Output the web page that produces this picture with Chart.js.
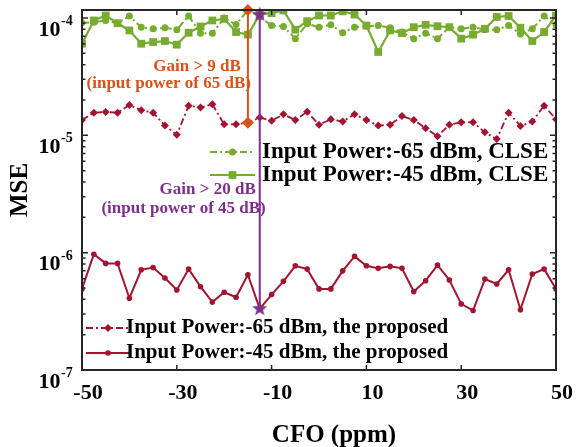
<!DOCTYPE html>
<html>
<head>
<meta charset="utf-8">
<script src="https://cdn.jsdelivr.net/npm/chart.js@4.4.0/dist/chart.umd.min.js"></script>
<style>
  html, body { margin: 0; padding: 0; background: #fff; }
</style>
</head>
<body>
<canvas id="chart" width="576" height="447"></canvas>
<script>
// CFO sweep (ppm)
const cfo = [-50, -47.5, -45, -42.5, -40, -37.5, -35, -32.5, -30, -27.5,
  -25, -22.5, -20, -17.5, -15, -12.5, -10, -7.5, -5, -2.5,
  0, 2.5, 5, 7.5, 10, 12.5, 15, 17.5, 20, 22.5,
  25, 27.5, 30, 32.5, 35, 37.5, 40, 42.5, 45, 47.5, 50];

// MSE, CLSE, input power -65 dBm
const mseClse65 = [9.1e-5, 9.2e-5, 9.5e-5, 9.0e-5, 1.04e-4, 8.35e-5, 8.1e-5, 8.26e-5, 7.95e-5, 1.04e-4,
  7.43e-5, 7.43e-5, 1.0e-4, 8.8e-5, 1.17e-4, 1.02e-4, 8.63e-5, 8.47e-5, 6.67e-5, 8.93e-5,
  8.35e-5, 8.75e-5, 7.49e-5, 8.35e-5, 8.51e-5, 8.63e-5, 8.26e-5, 7.59e-5, 6.67e-5, 7.43e-5,
  6.67e-5, 8.35e-5, 8.1e-5, 8.35e-5, 7.97e-5, 7.95e-5, 8.63e-5, 7.3e-5, 8.1e-5, 1.04e-4,
  8.75e-5];

// MSE, CLSE, input power -45 dBm
const mseClse45 = [6.04e-5, 9.53e-5, 1.05e-4, 9.03e-5, 7.83e-5, 6.04e-5, 6.24e-5, 6.36e-5, 5.93e-5, 7.49e-5,
  8.47e-5, 9.53e-5, 9.84e-5, 7.59e-5, 7.21e-5, 1.07e-4, 1.10e-4, 1.16e-4, 7.95e-5, 9.4e-5,
  1.05e-4, 1.05e-4, 1.14e-4, 1.07e-4, 8.63e-5, 5.13e-5, 7.83e-5, 7.43e-5, 8.35e-5, 8.75e-5,
  8.51e-5, 8.35e-5, 6.67e-5, 7.21e-5, 8.09e-5, 1.02e-4, 1.04e-4, 8.26e-5, 6.36e-5, 7.59e-5,
  1.05e-4];

// MSE, proposed, input power -65 dBm
const mseProp65 = [1.35e-5, 1.56e-5, 1.58e-5, 1.56e-5, 1.81e-5, 1.64e-5, 1.56e-5, 1.21e-5, 1.01e-5, 1.79e-5,
  1.73e-5, 1.84e-5, 1.24e-5, 1.24e-5, 1.28e-5, 1.42e-5, 1.33e-5, 1.51e-5, 1.35e-5, 1.59e-5,
  1.23e-5, 1.37e-5, 1.31e-5, 1.51e-5, 1.35e-5, 1.21e-5, 1.23e-5, 1.46e-5, 1.35e-5, 1.15e-5,
  0.98e-5, 1.23e-5, 1.29e-5, 1.29e-5, 1.06e-5, 0.93e-5, 1.56e-5, 1.20e-5, 1.31e-5, 1.79e-5,
  1.37e-5];

// MSE, proposed, input power -45 dBm
const mseProp45 = [4.91e-7, 9.7e-7, 8.1e-7, 8.1e-7, 4.09e-7, 7.15e-7, 7.48e-7, 6.08e-7, 4.81e-7, 7.24e-7,
  5.13e-7, 3.79e-7, 4.6e-7, 4.17e-7, 6.48e-7, 3.32e-7, 4.39e-7, 5.7e-7, 7.73e-7, 7.24e-7,
  4.91e-7, 4.91e-7, 7.0e-7, 9.3e-7, 7.73e-7, 7.35e-7, 7.64e-7, 7.35e-7, 4.66e-7, 5.77e-7,
  7.83e-7, 5.85e-7, 3.66e-7, 3.21e-7, 5.96e-7, 5.41e-7, 7.15e-7, 3.26e-7, 6.58e-7, 7.24e-7,
  4.91e-7];

const xTicks = [-50, -30, -10, 10, 30, 50];
const yDecades = [-7, -6, -5, -4];

const seriesLabels = [
  'Input Power:-65 dBm, CLSE',
  'Input Power:-45 dBm, CLSE',
  'Input Power:-65 dBm, the proposed',
  'Input Power:-45 dBm, the proposed'
];

// gain markers sit at these CFO indexes
const gainIdx9 = 14;
const gainIdx20 = 15;

const GREEN = '#77AC30';
const RED = '#A2142F';
const ORANGE = '#D95319';
const PURPLE = '#7E2F8E';
const INK = '#262626';
const SERIF = '"Liberation Serif", "Times New Roman", serif';
const DASHDOT = [7, 3, 2, 3];

function pts(ys) {
  return cfo.map((x, i) => ({x: x, y: ys[i]}));
}

// filled five point star used as a point style
function makeStar(r, color) {
  const c = document.createElement('canvas');
  c.width = c.height = r * 2 + 2;
  const g = c.getContext('2d');
  const cx = r + 1, cy = r + 1;
  g.beginPath();
  for (let k = 0; k < 10; k++) {
    const rr = k % 2 === 0 ? r : r * 0.42;
    const a = -Math.PI / 2 + k * Math.PI / 5;
    const px = cx + rr * Math.cos(a), py = cy + rr * Math.sin(a);
    if (k === 0) g.moveTo(px, py); else g.lineTo(px, py);
  }
  g.closePath();
  g.fillStyle = color;
  g.fill();
  return c;
}
const starImg = makeStar(8, PURPLE);

const datasets = [
  {
    // orange gain marker (-65 dBm)
    data: [{x: cfo[gainIdx9], y: mseClse65[gainIdx9]}, {x: cfo[gainIdx9], y: mseProp65[gainIdx9]}],
    borderColor: ORANGE, backgroundColor: ORANGE, borderWidth: 2,
    pointStyle: 'rectRot', pointRadius: 6, pointBorderWidth: 0, clip: false
  },
  {
    // purple gain marker (-45 dBm)
    data: [{x: cfo[gainIdx20], y: mseClse45[gainIdx20]}, {x: cfo[gainIdx20], y: mseProp45[gainIdx20]}],
    borderColor: PURPLE, backgroundColor: PURPLE, borderWidth: 2,
    pointStyle: starImg, pointRadius: 8, clip: false
  },
  {
    label: seriesLabels[0], data: pts(mseClse65),
    borderColor: GREEN, backgroundColor: GREEN, borderWidth: 2, borderDash: DASHDOT,
    pointStyle: 'circle', pointRadius: 3.5, pointBorderWidth: 0
  },
  {
    label: seriesLabels[1], data: pts(mseClse45),
    borderColor: GREEN, backgroundColor: GREEN, borderWidth: 2.2,
    pointStyle: 'rect', pointRadius: 5.5, pointBorderWidth: 0
  },
  {
    label: seriesLabels[2], data: pts(mseProp65),
    borderColor: RED, backgroundColor: RED, borderWidth: 1.8, borderDash: DASHDOT,
    pointStyle: 'rectRot', pointRadius: 4, pointBorderWidth: 0
  },
  {
    label: seriesLabels[3], data: pts(mseProp45),
    borderColor: RED, backgroundColor: RED, borderWidth: 2,
    pointStyle: 'circle', pointRadius: 2.8, pointBorderWidth: 0
  }
];

function drawLegendRow(ctx, ds, x0, x1, y, text, tx, size) {
  ctx.save();
  ctx.strokeStyle = ds.borderColor;
  ctx.lineWidth = ds.borderWidth;
  ctx.setLineDash(ds.borderDash || []);
  ctx.beginPath();
  ctx.moveTo(x0, y);
  ctx.lineTo(x1, y);
  ctx.stroke();
  ctx.setLineDash([]);
  ctx.fillStyle = ds.backgroundColor;
  Chart.helpers.drawPoint(ctx, {pointStyle: ds.pointStyle, rotation: 0, radius: ds.pointRadius, borderWidth: 0},
    (x0 + x1) / 2, y);
  ctx.fillStyle = '#000';
  ctx.font = 'bold ' + size + 'px ' + SERIF;
  ctx.textAlign = 'left';
  ctx.textBaseline = 'middle';
  ctx.fillText(text, tx, y);
  ctx.restore();
}

const decor = {
  id: 'decor',
  afterDraw(chart) {
    const ctx = chart.ctx;
    const a = chart.chartArea;
    const xs = chart.scales.x, ys = chart.scales.y;
    ctx.save();

    // axes box
    ctx.strokeStyle = INK;
    ctx.lineWidth = 2;
    ctx.strokeRect(a.left, a.top, a.right - a.left, a.bottom - a.top);

    // x ticks (inward, bottom and top)
    ctx.lineWidth = 1.5;
    xTicks.forEach(v => {
      const px = xs.getPixelForValue(v);
      ctx.beginPath();
      ctx.moveTo(px, a.bottom); ctx.lineTo(px, a.bottom - 5);
      ctx.moveTo(px, a.top); ctx.lineTo(px, a.top + 5);
      ctx.stroke();
    });

    // y ticks, log major + minor
    yDecades.forEach(d => {
      for (let m = 1; m <= 9; m++) {
        const v = m * Math.pow(10, d);
        if (v < ys.min || v > ys.max) continue;
        const py = ys.getPixelForValue(v);
        const len = m === 1 ? 6 : 3.5;
        ctx.beginPath();
        ctx.moveTo(a.left, py); ctx.lineTo(a.left + len, py);
        ctx.moveTo(a.right, py); ctx.lineTo(a.right - len, py);
        ctx.stroke();
      }
    });

    // x tick labels
    ctx.fillStyle = '#000';
    ctx.font = 'bold 22px ' + SERIF;
    ctx.textAlign = 'center';
    ctx.textBaseline = 'alphabetic';
    xTicks.forEach(v => {
      ctx.fillText(String(v), xs.getPixelForValue(v) + 6, 399);
    });

    // y tick labels 10^d
    yDecades.forEach(d => {
      const py = ys.getPixelForValue(Math.pow(10, d));
      ctx.font = 'bold 22px ' + SERIF;
      ctx.textAlign = 'right';
      ctx.fillText('10', 60.5, py + 17.5);
      ctx.font = 'bold 14px ' + SERIF;
      ctx.textAlign = 'left';
      ctx.fillText(String(d), 61, py + 7);
    });

    // axis titles
    ctx.font = 'bold 25px ' + SERIF;
    ctx.textAlign = 'center';
    ctx.fillText('CFO (ppm)', 334, 442);
    ctx.save();
    ctx.translate(27, (a.top + a.bottom) / 2);
    ctx.rotate(-Math.PI / 2);
    ctx.fillText('MSE', 0, 0);
    ctx.restore();

    // gain annotations
    const ox = xs.getPixelForValue(cfo[gainIdx9]);
    const vx = xs.getPixelForValue(cfo[gainIdx20]);
    ctx.font = 'bold 17px ' + SERIF;
    ctx.textAlign = 'right';
    ctx.textBaseline = 'middle';
    ctx.fillStyle = ORANGE;
    ctx.fillText('Gain > 9 dB', ox - 7, 67);
    ctx.fillText('(input power of 65 dB)', ox + 3, 84);
    ctx.fillStyle = PURPLE;
    ctx.fillText('Gain > 20 dB', vx - 4, 190);
    ctx.fillText('(input power of 45 dB)', vx + 6, 209);

    // legends
    const dsets = chart.data.datasets;
    drawLegendRow(ctx, dsets[2], 210, 255, 152, seriesLabels[0], 262, 23);
    drawLegendRow(ctx, dsets[3], 210, 255, 175, seriesLabels[1], 262, 23);
    drawLegendRow(ctx, dsets[4], 86, 130, 328, seriesLabels[2], 126, 21);
    drawLegendRow(ctx, dsets[5], 86, 130, 353, seriesLabels[3], 126, 21);

    ctx.restore();
  }
};

new Chart(document.getElementById('chart'), {
  type: 'line',
  data: {datasets: datasets},
  options: {
    responsive: false,
    animation: false,
    layout: {padding: {left: 0, top: 9, right: 20, bottom: 0}},
    plugins: {legend: {display: false}, tooltip: {enabled: false}},
    scales: {
      x: {
        type: 'linear', min: -50, max: 50,
        grid: {display: false}, border: {display: false},
        ticks: {display: false},
        afterFit: s => { s.height = 77; }
      },
      y: {
        type: 'logarithmic', min: 1e-7, max: 1.17e-4,
        grid: {display: false}, border: {display: false},
        ticks: {display: false},
        afterFit: s => { s.width = 82; }
      }
    }
  },
  plugins: [decor]
});
</script>
</body>
</html>
